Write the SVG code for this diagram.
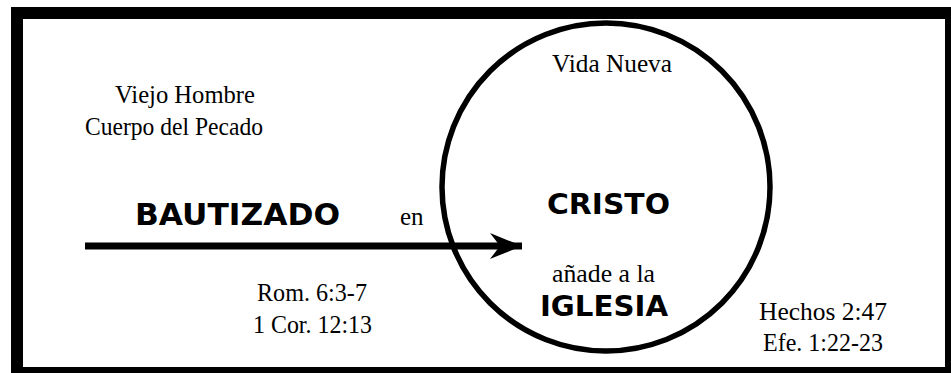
<svg xmlns="http://www.w3.org/2000/svg" width="951" height="373" viewBox="0 0 951 373">
<style>
.serif{font-family:"Liberation Serif","Times New Roman",serif;font-size:25px;fill:#000}
.bold{font-family:"DejaVu Sans","Liberation Sans",sans-serif;font-weight:bold;fill:#000}
</style>
<defs>
<marker id="ah" markerUnits="userSpaceOnUse" markerWidth="34" markerHeight="28" refX="32" refY="14" orient="auto">
<path d="M0,1 L32,14 L0,27 L10,14 Z" fill="#000"/>
</marker>
</defs>
<rect x="0" y="0" width="951" height="373" fill="#fff"/>
<g id="frame">
<rect x="11" y="7" width="940" height="366" fill="#000"/>
<rect x="23" y="19" width="922" height="348" fill="#fff"/>
</g>
<g id="cristo">
<circle cx="606" cy="187" r="164" fill="none" stroke="#000" stroke-width="5.5"/>
<text class="serif" x="552" y="72" textLength="120" lengthAdjust="spacingAndGlyphs">Vida Nueva</text>
<text class="bold" x="547" y="214" font-size="28" textLength="123" lengthAdjust="spacingAndGlyphs">CRISTO</text>
<text class="serif" x="552" y="282" textLength="103" lengthAdjust="spacingAndGlyphs">añade a la</text>
<text class="bold" x="540" y="316" font-size="28" textLength="128" lengthAdjust="spacingAndGlyphs">IGLESIA</text>
</g>
<g id="viejo">
<text class="serif" x="115" y="103" textLength="140" lengthAdjust="spacingAndGlyphs">Viejo Hombre</text>
<text class="serif" x="85" y="135" textLength="178" lengthAdjust="spacingAndGlyphs">Cuerpo del Pecado</text>
</g>
<g id="bautizado">
<text class="bold" x="135" y="225" font-size="30" textLength="205" lengthAdjust="spacingAndGlyphs">BAUTIZADO</text>
<text class="serif" x="400" y="225">en</text>
</g>
<g id="refs1">
<text class="serif" x="257" y="301" textLength="110" lengthAdjust="spacingAndGlyphs">Rom. 6:3-7</text>
<text class="serif" x="253" y="333" textLength="119" lengthAdjust="spacingAndGlyphs">1 Cor. 12:13</text>
</g>
<g id="refs2">
<text class="serif" x="759" y="320" textLength="128" lengthAdjust="spacingAndGlyphs">Hechos 2:47</text>
<text class="serif" x="763" y="351" textLength="120" lengthAdjust="spacingAndGlyphs">Efe. 1:22-23</text>
</g>
<g id="connectors">
<line x1="85" y1="246" x2="522" y2="246" stroke="#000" stroke-width="7" marker-end="url(#ah)"/>
</g>
</svg>
